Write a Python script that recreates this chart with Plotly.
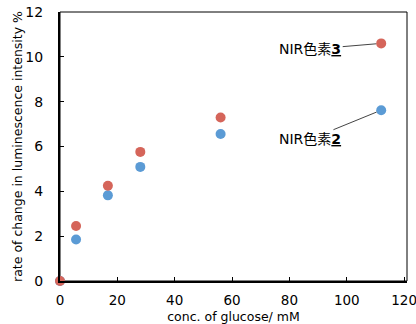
import plotly.graph_objects as go

glucose = [0, 5.6, 16.7, 28, 56, 112]
dye2 = [0, 1.85, 3.82, 5.09, 6.56, 7.62]
dye3 = [0, 2.45, 4.25, 5.76, 7.29, 10.6]
xticks = [0, 20, 40, 60, 80, 100, 120]
yticks = [0, 2, 4, 6, 8, 10, 12]

FONT = "DejaVu Sans, Noto Sans CJK JP, sans-serif"
blue = "#5b9bd5"
red = "#d5655a"

fig = go.Figure()
fig.add_trace(go.Scatter(x=glucose, y=dye2, mode="markers", name="NIR色素2",
                         marker=dict(color=blue, size=10), cliponaxis=False))
fig.add_trace(go.Scatter(x=glucose, y=dye3, mode="markers", name="NIR色素3",
                         marker=dict(color=red, size=10), cliponaxis=False))

fig.add_annotation(x=glucose[-1], y=dye3[-1], text="NIR色素<b><u>3</u></b>",
                   showarrow=True, arrowhead=0, arrowwidth=1, arrowcolor="#444",
                   ax=-71, ay=6, standoff=5, font=dict(family=FONT, size=14, color="black"))
fig.add_annotation(x=glucose[-1], y=dye2[-1], text="NIR色素<b><u>2</u></b>",
                   showarrow=True, arrowhead=0, arrowwidth=1, arrowcolor="#444",
                   ax=-71, ay=29, standoff=5, font=dict(family=FONT, size=14, color="black"))

fig.add_shape(type="rect", xref="paper", yref="paper", x0=0, y0=0, x1=1, y1=1,
              line=dict(color="black", width=1), layer="below")

fig.update_layout(
    width=416, height=324,
    margin=dict(l=60, r=9, t=12, b=43, autoexpand=False),
    paper_bgcolor="white", plot_bgcolor="white",
    showlegend=False,
    font=dict(family=FONT, size=13, color="black"),
    xaxis=dict(range=[0, 121], tickvals=xticks, ticks="inside", ticklen=4,
               tickcolor="black", showgrid=False, zeroline=False, automargin=False,
               showline=True, linecolor="black", linewidth=2, ticklabelstandoff=6,
               ticklabeloverflow="allow",
               title=dict(text="conc. of glucose/ mM", font=dict(size=12.5), standoff=6),
               tickfont=dict(size=13.5)),
    yaxis=dict(range=[0, 12], tickvals=yticks, ticks="inside", ticklen=4,
               tickcolor="black", showgrid=False, zeroline=False, automargin=False,
               showline=True, linecolor="black", linewidth=2, ticklabelstandoff=12,
               ticklabeloverflow="allow",
               title=dict(text="rate of change in luminescence intensity %", font=dict(size=12.5), standoff=0),
               tickfont=dict(size=14)),
)

fig.write_html("out.html", config={"displayModeBar": False},
               post_script="document.body.style.margin='0';document.body.style.overflow='hidden';")
